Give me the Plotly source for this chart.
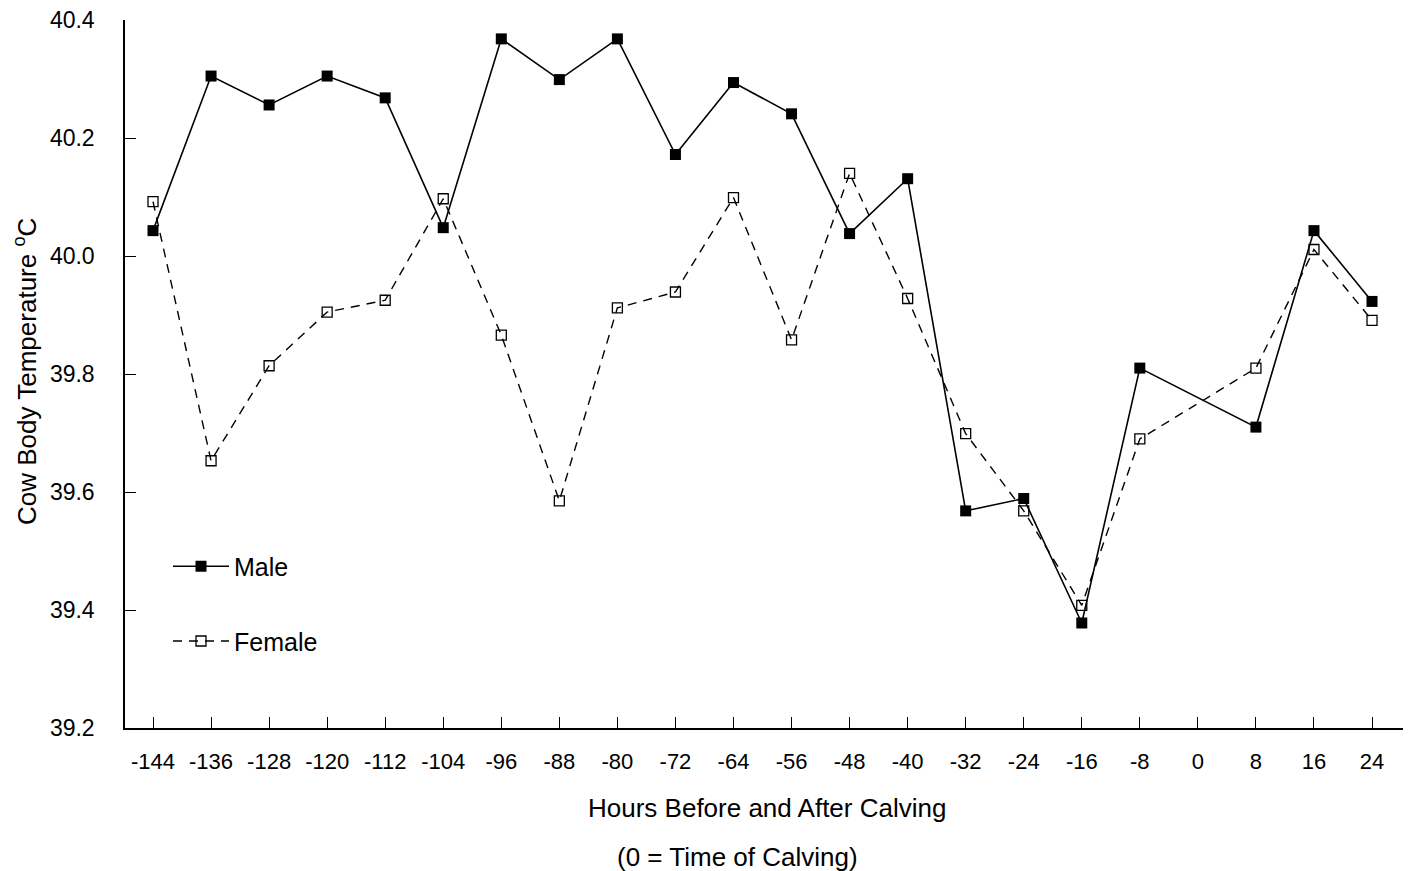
import plotly.graph_objects as go

hours = [-144, -136, -128, -120, -112, -104, -96, -88, -80, -72, -64, -56, -48, -40, -32, -24, -16, -8, 8, 16, 24]
male = [40.043, 40.305, 40.256, 40.305, 40.268, 40.048, 40.368, 40.299, 40.368, 40.172, 40.294, 40.241,
        40.038, 40.131, 39.568, 39.589, 39.378, 39.810, 39.710, 40.043, 39.923]
female = [40.092, 39.653, 39.814, 39.905, 39.925, 40.097, 39.866, 39.585, 39.912, 39.939, 40.099, 39.858,
          40.140, 39.928, 39.699, 39.568, 39.408, 39.690, 39.810, 40.011, 39.891]
x_ticks = [-144, -136, -128, -120, -112, -104, -96, -88, -80, -72, -64, -56, -48, -40, -32, -24, -16, -8, 0, 8, 16, 24]
y_ticks = [39.2, 39.4, 39.6, 39.8, 40.0, 40.2, 40.4]

FONT = "Liberation Sans, Arial, sans-serif"

fig = go.Figure()
fig.add_trace(go.Scatter(
    x=hours, y=female, name="Female", mode="lines+markers",
    line=dict(color="black", width=1.4, dash="9px,7px"),
    marker=dict(symbol="square-open", size=10, color="black", line=dict(width=1.3, color="black")),
    legend="legend2"))
fig.add_trace(go.Scatter(
    x=hours, y=male, name="Male", mode="lines+markers",
    line=dict(color="black", width=1.6),
    marker=dict(symbol="square", size=11, color="black"),
    legend="legend"))

fig.update_layout(
    width=1410, height=871,
    margin=dict(l=125, r=7, t=18, b=143),
    paper_bgcolor="white", plot_bgcolor="white",
    font=dict(family=FONT, color="black", size=22),
    showlegend=True,
    legend=dict(x=(168 - 125) / 1278, y=(728 - 566) / 710, xanchor="left", yanchor="middle", itemwidth=56,
                font=dict(size=25, family=FONT), bgcolor="rgba(0,0,0,0)"),
    legend2=dict(x=(168 - 125) / 1278, y=(728 - 641) / 710, xanchor="left", yanchor="middle", itemwidth=56,
                 font=dict(size=25, family=FONT), bgcolor="rgba(0,0,0,0)"),
    xaxis=dict(range=[-147.86, 28.27], tickmode="array", tickvals=x_ticks,
               ticktext=[str(v) for v in x_ticks],
               ticks="inside", ticklen=11, tickwidth=1.3, tickcolor="black",
               showline=True, linecolor="black", linewidth=1.5, showgrid=False, zeroline=False,
               ticklabelstandoff=13, tickfont=dict(size=22, family=FONT)),
    yaxis=dict(range=[39.2, 40.4], tickmode="array", tickvals=y_ticks,
               ticktext=[f"{v:.1f}" for v in y_ticks],
               ticks="inside", ticklen=11, tickwidth=1.3, tickcolor="black",
               showline=True, linecolor="black", linewidth=1.5, showgrid=False, zeroline=False,
               ticklabelstandoff=24, tickfont=dict(size=23, family=FONT)),
    annotations=[
        dict(text="Hours Before and After Calving", xref="paper", yref="paper",
             x=(767 - 125) / 1278, y=(728 - 808) / 710, xanchor="center", yanchor="middle",
             showarrow=False, font=dict(size=26, family=FONT)),
        dict(text="(0 = Time of Calving)", xref="paper", yref="paper",
             x=(737 - 125) / 1278, y=(728 - 857) / 710, xanchor="center", yanchor="middle",
             showarrow=False, font=dict(size=26, family=FONT)),
        dict(text="Cow Body Temperature <sup>o</sup>C", xref="paper", yref="paper",
             x=0, xshift=-100, y=(728 - 371) / 710, xanchor="center", yanchor="middle",
             textangle=-90, showarrow=False, font=dict(size=26, family=FONT)),
    ],
)

fig.write_html("out.html")
